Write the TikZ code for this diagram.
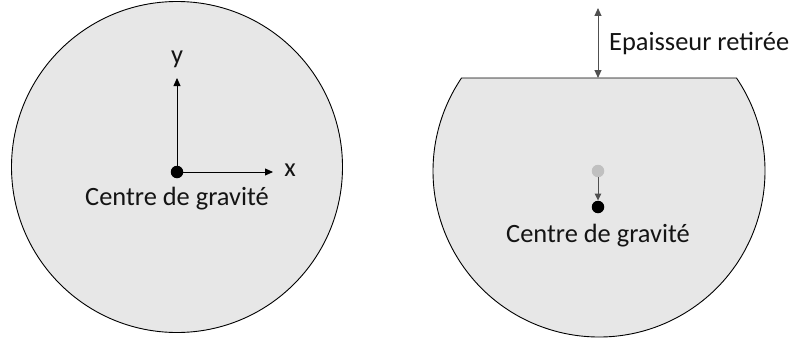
\documentclass[tikz,border=0pt]{standalone}
\usepackage{fontspec}
\setmainfont{Carlito}
\usetikzlibrary{arrows.meta}
\definecolor{diskfill}{RGB}{231,231,231}
\definecolor{txtcol}{RGB}{20,20,20}
\definecolor{oldcg}{RGB}{192,192,192}
\definecolor{thick}{RGB}{80,80,80}
\tikzset{
  disk/.style={draw=black, line width=0.9bp, fill=diskfill},
  dotnode/.style={circle, fill=black, inner sep=0pt, minimum size=12.5bp},
  olddot/.style={circle, fill=oldcg, inner sep=0pt, minimum size=12.5bp},
  axisarrow/.style={draw=black, line width=0.8bp, -{Triangle[length=8bp,width=7bp]}},
  dimarrow/.style={draw=thick, line width=0.9bp, {Triangle[length=8bp,width=7bp]}-{Triangle[length=8bp,width=7bp]}},
  lbl/.style={text=txtcol, font=\fontsize{26.5}{30}\selectfont, inner sep=0pt}
}
\begin{document}
\begin{tikzpicture}[x=1bp,y=1bp]
\useasboundingbox (0,0) rectangle (792,338);
% left disk
\path[disk] (177,171) circle[radius=165.5];
% right truncated disk
\path[disk] (599,167) ++(34.07:166) arc[start angle=34.07, end angle=-214.07, radius=166] -- cycle;
% left centre of gravity and axes
\node[dotnode] (cgL) at (177,166) {};
\coordinate (xend) at (273,166);
\coordinate (yend) at (177,260);
\draw[axisarrow] (cgL.center) -- (xend);
\draw[axisarrow] (cgL.center) -- (yend);
\node[lbl] (xl) at (290,168) {x};
\node[lbl] (yl) at (177,279) {y};
\node[lbl] (cgLtxt) at (177,139) {Centre de gravité};
% right
\coordinate (topT) at (598,330);
\coordinate (topB) at (598,260);
\draw[dimarrow] (topT) -- (topB);
\node[lbl, anchor=west] (ep) at (609,295) {Epaisseur retirée};
\node[olddot] (cgOld) at (598,167) {};
\node[dotnode] (cgR) at (598,131) {};
\draw[draw=thick, line width=0.9bp, -{Triangle[length=7bp,width=6.5bp]}] (cgOld) -- (cgR);
\node[lbl] (cgRtxt) at (598,102) {Centre de gravité};
\end{tikzpicture}
\end{document}
